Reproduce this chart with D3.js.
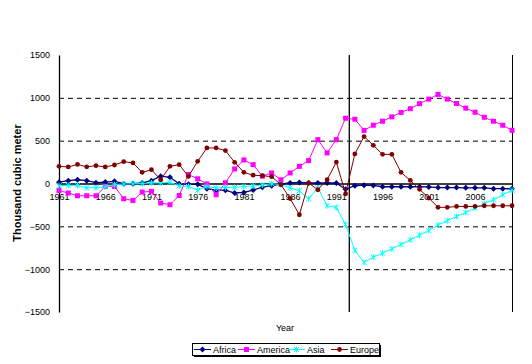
<!DOCTYPE html>
<html>
<head>
<meta charset="utf-8">
<script src="https://cdn.jsdelivr.net/npm/d3@7"></script>
<style>
html,body{margin:0;padding:0;background:#fff;}
svg{display:block;font-family:"Liberation Sans",Arial,sans-serif;}
</style>
</head>
<body>
<svg id="chart" width="532" height="364"></svg>
<script>
const years = d3.range(1961, 2011);
const africa = [15,33,44,33,10,17,25,-2,-2,6,33,85,72,-4,-10,-10,-60,-78,-78,-111,-104,-77,-43,-26,-6,6,13,6,6,6,6,-68,-26,-20,-22,-38,-38,-38,-38,-38,-40,-47,-47,-47,-50,-50,-50,-60,-60,-62];
const america = [-82,-111,-143,-143,-143,-34,-34,-178,-198,-100,-92,-228,-248,-140,105,55,-5,-131,8,170,275,220,85,123,44,123,200,267,512,357,512,762,750,620,680,727,778,830,873,932,985,1040,985,934,880,832,773,727,680,621];
const asia = [-26,-22,-22,-50,-48,-38,-14,-6,-3,0,7,9,13,-28,-34,-80,-34,-53,-45,-45,-34,-30,-18,-2,-14,-50,-85,-180,-50,-260,-280,-480,-780,-920,-860,-813,-763,-712,-658,-603,-550,-485,-435,-385,-338,-287,-236,-190,-131,-80];
const europe = [200,193,223,195,208,193,216,255,240,130,161,44,200,220,83,259,415,415,384,247,130,97,91,80,-14,-175,-365,6,-73,44,250,-120,345,548,446,340,340,130,36,-68,-170,-278,-278,-268,-268,-268,-260,-260,-260,-260];
const seriesNames = ["Africa","America","Asia","Europe"];
const yTicks = [1500,1000,500,0,-500,-1000,-1500];
const gridValues = [1000,500,-500,-1000];
const xTickYears = [1961,1966,1971,1976,1981,1986,1991,1996,2001,2006];
const dividerYear = 1992.4;

const colors = {Africa:"#000080", America:"#FF00FF", Asia:"#00FFFF", Europe:"#800000"};
const seriesData = {Africa:africa, America:america, Asia:asia, Europe:europe};

const svg = d3.select("#chart");
const x = d3.scaleLinear().domain([1961, 2010]).range([59, 512]);
const y = d3.scaleLinear().domain([-1500, 1500]).range([312, 55]);

// gridlines
svg.append("g").selectAll("line").data(gridValues).join("line")
  .attr("x1", x(1961)).attr("x2", x(2010))
  .attr("y1", d => y(d)+0.5).attr("y2", d => y(d)+0.5)
  .attr("stroke", "#000").attr("stroke-width", 1).attr("stroke-dasharray", "5,4");

// right border
svg.append("line").attr("x1", x(2010)+0.5).attr("x2", x(2010)+0.5)
  .attr("y1", y(1500)).attr("y2", y(-1500)).attr("stroke", "#000").attr("stroke-width", 1);

// y axis
const yAxis = svg.append("g").attr("transform", `translate(${x(1961)},0)`)
  .call(d3.axisLeft(y).tickValues(yTicks).tickSize(0).tickPadding(9).tickFormat(d3.format("d")));
yAxis.select(".domain").attr("stroke", "#000").attr("stroke-width", 1.3);
yAxis.selectAll("text").attr("font-size", "9px").attr("fill", "#000")
  .attr("font-family", "'Liberation Sans', Arial, sans-serif");

// x axis at zero
const xAxis = svg.append("g").attr("transform", `translate(0,${y(0)})`)
  .call(d3.axisBottom(x).tickValues(xTickYears).tickSize(0).tickPadding(10).tickFormat(d3.format("d")));
xAxis.select(".domain").attr("stroke", "#000").attr("stroke-width", 1.5);
xAxis.selectAll("text").attr("font-size", "9px").attr("fill", "#000")
  .attr("font-family", "'Liberation Sans', Arial, sans-serif");

// divider
svg.append("line").attr("x1", x(dividerYear)).attr("x2", x(dividerYear))
  .attr("y1", y(1500)).attr("y2", y(-1500)).attr("stroke", "#000").attr("stroke-width", 1.3);

const line = d3.line().x((d,i) => x(years[i])).y(d => y(d));

function drawMarker(g, name, cx, cy) {
  const c = colors[name];
  if (name === "Africa") {
    g.append("path").attr("d", `M${cx},${cy-3}L${cx+3},${cy}L${cx},${cy+3}L${cx-3},${cy}Z`).attr("fill", c);
  } else if (name === "America") {
    g.append("rect").attr("x", cx-2.5).attr("y", cy-2.5).attr("width", 5).attr("height", 5).attr("fill", c);
  } else if (name === "Asia") {
    g.append("path").attr("d", `M${cx-2.5},${cy-2.5}L${cx+2.5},${cy+2.5}M${cx-2.5},${cy+2.5}L${cx+2.5},${cy-2.5}M${cx},${cy-3}L${cx},${cy+3}`)
      .attr("stroke", c).attr("stroke-width", 1);
  } else {
    g.append("circle").attr("cx", cx).attr("cy", cy).attr("r", 2.4).attr("fill", c);
  }
}

seriesNames.forEach(name => {
  const g = svg.append("g");
  g.append("path").datum(seriesData[name]).attr("d", line)
    .attr("fill", "none").attr("stroke", colors[name]).attr("stroke-width", name === "Africa" ? 1.3 : 1);
  seriesData[name].forEach((v,i) => drawMarker(g, name, x(years[i]), y(v)));
});

// axis titles
svg.append("text").attr("x", 285).attr("y", 331).attr("text-anchor", "middle")
  .attr("font-size", "9px").text("Year");
svg.append("text").attr("transform", "translate(21,183) rotate(-90)").attr("text-anchor", "middle")
  .attr("font-size", "11px").attr("font-weight", "bold").text("Thousand cubic meter");

// legend
const lg = svg.append("g");
lg.append("rect").attr("x", 194).attr("y", 345).attr("width", 187).attr("height", 12).attr("fill", "#000");
lg.append("rect").attr("x", 192.5).attr("y", 343.5).attr("width", 187).attr("height", 12).attr("fill", "#fff").attr("stroke", "#000");
const legendX = [194, 238, 288, 331];
seriesNames.forEach((name, i) => {
  const lx = legendX[i], ly = 349.5;
  lg.append("line").attr("x1", lx).attr("x2", lx+17).attr("y1", ly).attr("y2", ly)
    .attr("stroke", colors[name]).attr("stroke-width", 1);
  drawMarker(lg, name, lx+8.5, ly);
  lg.append("text").attr("x", lx+19).attr("y", ly+3.3).attr("font-size", "9px").text(name);
});
</script>
</body>
</html>
